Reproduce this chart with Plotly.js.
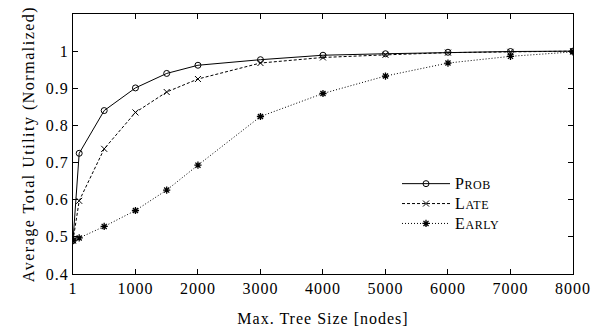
<!DOCTYPE html>
<html>
<head>
<meta charset="utf-8">
<script src="https://cdn.plot.ly/plotly-3.0.1.min.js"></script>
<style>
html,body{margin:0;padding:0;background:#fff;}
#chart{width:594px;height:333px;}
#chart .xtick text, #chart .ytick text, #chart .xtitle {letter-spacing:1px;}
#chart .ytitle {letter-spacing:1.5px;}
#chart .legendtext {letter-spacing:0.6px;}
</style>
</head>
<body>
<div id="chart"></div>
<script>
const treeSize = [1, 100, 500, 1000, 1500, 2000, 3000, 4000, 5000, 6000, 7000, 8000];
const probVals  = [0.49, 0.725, 0.840, 0.901, 0.940, 0.962, 0.977, 0.989, 0.993, 0.997, 0.999, 1.000];
const lateVals  = [0.49, 0.597, 0.737, 0.835, 0.890, 0.925, 0.968, 0.983, 0.990, 0.996, 0.998, 1.000];
const earlyVals = [0.49, 0.497, 0.528, 0.571, 0.626, 0.693, 0.824, 0.886, 0.933, 0.968, 0.986, 0.998];
const xTicks = [1, 1000, 2000, 3000, 4000, 5000, 6000, 7000, 8000];
const xTickText = ["1", "1000", "2000", "3000", "4000", "5000", "6000", "7000", "8000"];
const yTicks = [0.4, 0.5, 0.6, 0.7, 0.8, 0.9, 1.0];
const yTickText = ["0.4", "0.5", "0.6", "0.7", "0.8", "0.9", "1"];
const sc = s => '<span style="font-size:16px">' + s[0] + '</span><span style="font-size:12px">' + s.slice(1) + '</span>';
const seriesNames = [sc("PROB"), sc("LATE"), sc("EARLY")];

const FONT = "Liberation Serif, Times New Roman, serif";
const traces = [
  {x: treeSize, y: probVals, name: seriesNames[0], mode: "lines+markers",
   line: {color: "#000", width: 1, dash: "solid"},
   marker: {symbol: "circle-open", size: 6, color: "#000", line: {width: 1, color: "#000"}}},
  {x: treeSize, y: lateVals, name: seriesNames[1], mode: "lines+markers",
   line: {color: "#000", width: 1, dash: "3px,2px"},
   marker: {symbol: "x-thin-open", size: 6, color: "#000", line: {width: 1, color: "#000"}}},
  {x: treeSize, y: earlyVals, name: seriesNames[2], mode: "lines+markers",
   line: {color: "#000", width: 1, dash: "1px,2px"},
   marker: {symbol: "asterisk-open", size: 6, color: "#000", line: {width: 1.3, color: "#000"}}}
];
const layout = {
  width: 594, height: 333,
  margin: {l: 73, r: 21, t: 14, b: 59},
  paper_bgcolor: "#fff", plot_bgcolor: "#fff",
  font: {family: FONT, size: 16, color: "#000"},
  showlegend: true,
  legend: {x: 0.648, y: 0.405, xanchor: "left", yanchor: "top", bgcolor: "rgba(0,0,0,0)",
           font: {family: FONT, size: 13, color: "#000"}, tracegroupgap: 0, itemwidth: 48},
  xaxis: {range: [1, 8000], tickvals: xTicks, ticktext: xTickText,
          ticks: "inside", ticklen: 5, tickcolor: "#000", mirror: "ticks",
          tickfont: {family: FONT, size: 16},
          showline: true, linecolor: "#000", linewidth: 1, showgrid: false, zeroline: false,
          title: {text: "Max. Tree Size [nodes]", font: {family: FONT, size: 16}, standoff: 16}},
  yaxis: {range: [0.4, 1.1], tickvals: yTicks, ticktext: yTickText,
          ticks: "inside", ticklen: 5, tickcolor: "#000", mirror: "ticks",
          tickfont: {family: FONT, size: 16},
          showline: true, linecolor: "#000", linewidth: 1, showgrid: false, zeroline: false,
          title: {text: "Average Total Utility (Normalized)", font: {family: FONT, size: 16}, standoff: 10}}
};
Plotly.newPlot("chart", traces, layout, {displayModeBar: false, staticPlot: true});
</script>
</body>
</html>
